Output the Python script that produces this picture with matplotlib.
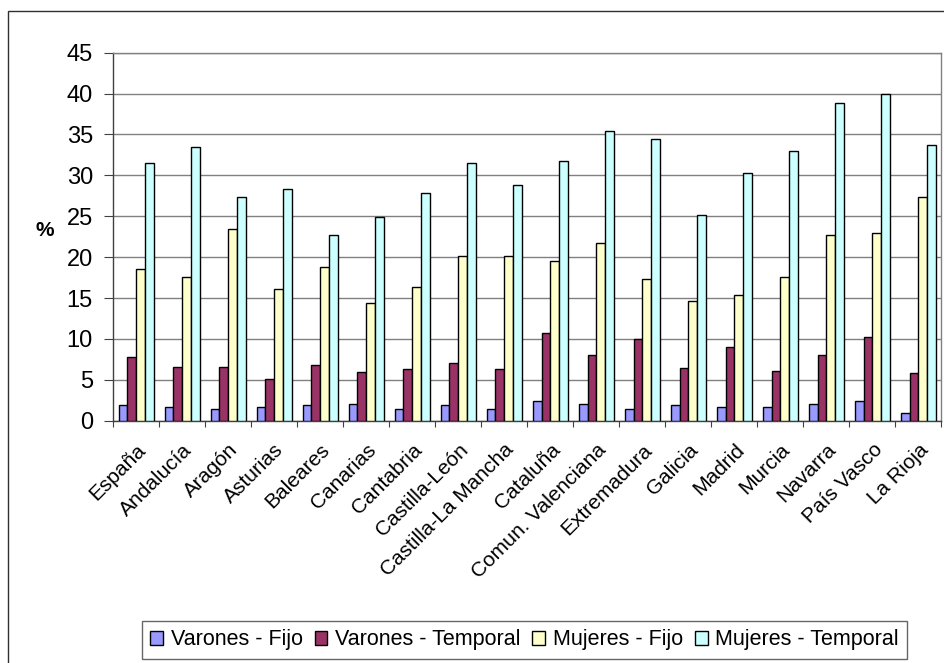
import numpy as np
import matplotlib
matplotlib.use("Agg")
import matplotlib.pyplot as plt
from matplotlib.patches import Rectangle

plt.rcParams['font.family'] = ['Liberation Sans', 'DejaVu Sans']

# datos: % por comunidad
regiones = ["España", "Andalucía", "Aragón", "Asturias", "Baleares", "Canarias",
            "Cantabria", "Castilla-León", "Castilla-La Mancha", "Cataluña",
            "Comun. Valenciana", "Extremadura", "Galicia", "Madrid", "Murcia",
            "Navarra", "País Vasco", "La Rioja"]
varones_fijo = [1.9, 1.7, 1.4, 1.7, 1.9, 2.1, 1.4, 1.9, 1.4, 2.4, 2.1, 1.4,
                1.9, 1.7, 1.7, 2.1, 2.4, 0.9]
varones_temporal = [7.8, 6.6, 6.6, 5.1, 6.8, 6.0, 6.3, 7.0, 6.3, 10.7, 8.0, 10.0,
                    6.5, 9.0, 6.1, 8.0, 10.2, 5.8]
mujeres_fijo = [18.5, 17.6, 23.4, 16.1, 18.8, 14.4, 16.3, 20.2, 20.2, 19.5, 21.7, 17.3,
                14.6, 15.4, 17.6, 22.7, 22.9, 27.3]
mujeres_temporal = [31.5, 33.5, 27.3, 28.3, 22.7, 24.9, 27.8, 31.5, 28.8, 31.7, 35.4, 34.4,
                    25.1, 30.3, 33.0, 38.8, 40.0, 33.7]
series = ["Varones - Fijo", "Varones - Temporal", "Mujeres - Fijo", "Mujeres - Temporal"]
colores = ["#9999FF", "#993366", "#FFFFCC", "#CCFFFF"]
yticks = [0, 5, 10, 15, 20, 25, 30, 35, 40, 45]


def main():
    fig = plt.figure(figsize=(9.45, 6.63), dpi=100)
    ax = fig.add_axes([113 / 945, 1 - 420.7 / 663, (941.5 - 113) / 945, (420.7 - 52.7) / 663])

    x = np.arange(len(regiones))
    w = 0.19
    valores = [varones_fijo, varones_temporal, mujeres_fijo, mujeres_temporal]
    for i, (v, c, s) in enumerate(zip(valores, colores, series)):
        ax.bar(x + (i - 1.5) * w, v, w, color=c, edgecolor="black", linewidth=1.0,
               label=s, zorder=3)

    ax.set_xlim(-0.5, len(regiones) - 0.5)
    ax.set_ylim(0, 45)
    ax.set_yticks(yticks)
    ax.yaxis.grid(True, color="#808080", linewidth=1.0, zorder=0)
    ax.tick_params(axis="y", labelsize=17, length=6.5, width=0.8, pad=8, color="#404040")

    # etiquetas en el centro, marcas entre grupos
    ax.set_xticks(x)
    ax.set_xticklabels(regiones, rotation=45, ha="right", rotation_mode="anchor", fontsize=15)
    ax.set_xticks(np.arange(len(regiones) + 1) - 0.5, minor=True)
    ax.tick_params(axis="x", which="major", length=0, pad=14)
    ax.tick_params(axis="x", which="minor", length=4.5, width=0.8, color="#404040")

    for lado in ["top", "right"]:
        ax.spines[lado].set_color("#808080")
        ax.spines[lado].set_linewidth(1.0)
    for lado in ["left", "bottom"]:
        ax.spines[lado].set_color("#404040")
        ax.spines[lado].set_linewidth(1.0)

    fig.text(45 / 945, 1 - 230 / 663, "%", fontsize=15, fontweight="bold",
             ha="center", va="center")

    leg = fig.legend(loc="center", bbox_to_anchor=(524.5 / 945, 1 - 640 / 663), ncol=4,
                     fontsize=15.5, frameon=True, fancybox=False, handlelength=0.6,
                     handleheight=0.6, handletextpad=0.35, columnspacing=0.55,
                     borderpad=0.4, borderaxespad=0)
    leg.get_frame().set_edgecolor("#404040")
    leg.get_frame().set_linewidth(1.0)

    # borde del area del grafico
    fig.patches.append(Rectangle((8.5 / 945, -0.2), 1.2, 1.2 - 10.5 / 663,
                                 transform=fig.transFigure, fill=False,
                                 edgecolor="#303030", linewidth=1.0, clip_on=False))

    fig.savefig("out.png", dpi=100)


if __name__ == "__main__":
    main()
